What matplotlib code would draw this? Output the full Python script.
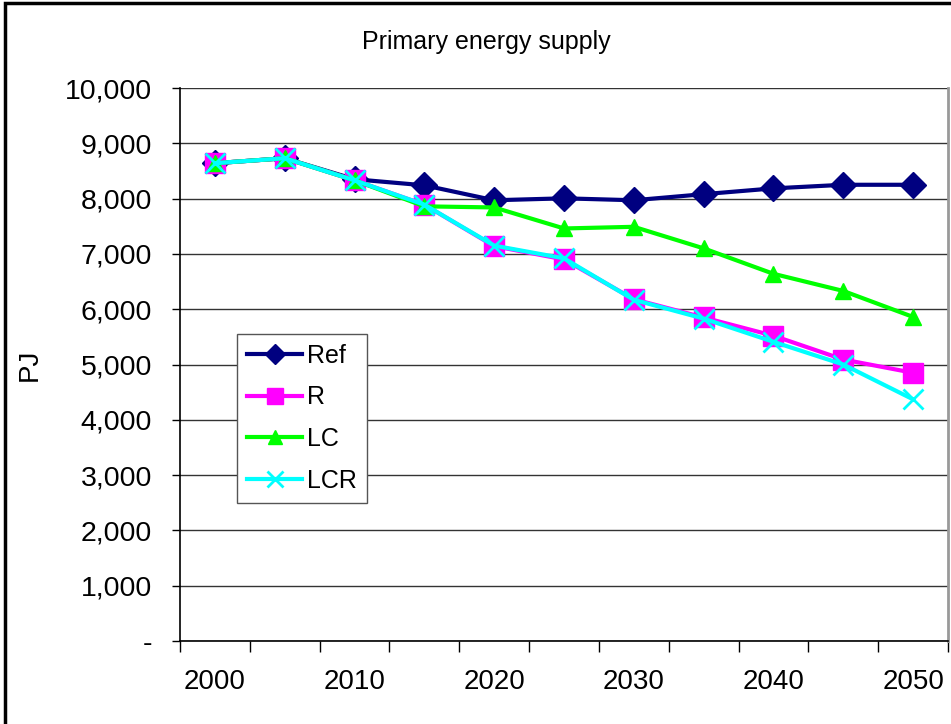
import matplotlib
matplotlib.use("Agg")
import matplotlib.pyplot as plt
from matplotlib.patches import Rectangle
from matplotlib.ticker import FuncFormatter

plt.rcParams['font.family'] = ['Liberation Sans', 'DejaVu Sans']

years = [2000, 2005, 2010, 2015, 2020, 2025, 2030, 2035, 2040, 2045, 2050]
ref = [8640, 8730, 8350, 8240, 7970, 8005, 7970, 8080, 8185, 8250, 8250]
r = [8640, 8730, 8330, 7890, 7140, 6900, 6180, 5850, 5520, 5090, 4850]
lc = [8640, 8730, 8330, 7860, 7840, 7460, 7490, 7100, 6640, 6330, 5860]
lcr = [8640, 8730, 8330, 7890, 7150, 6920, 6170, 5830, 5410, 5000, 4370]

x = list(range(len(years)))

fig = plt.figure(figsize=(9.51, 7.24), dpi=100)
ax = fig.add_axes([180 / 951, 1 - 641 / 724, 768 / 951, 553 / 724])

ax.plot(x, ref, color='#000080', marker='D', ms=13, lw=3, label='Ref')
ax.plot(x, r, color='#FF00FF', marker='s', ms=14, lw=3, label='R')
ax.plot(x, lc, color='#00FF00', marker='^', ms=12, lw=3, label='LC')
ax.plot(x, lcr, color='#00FFFF', marker='x', ms=14, mew=2, lw=3, label='LCR')

ax.set_ylim(0, 10000)
ax.set_xlim(-0.5, len(years) - 0.5)
ax.set_yticks(range(0, 10001, 1000))
ax.yaxis.set_major_formatter(FuncFormatter(lambda v, p: '-' if v == 0 else f'{int(v):,}'))
ax.grid(axis='y', color='#333333', lw=1)
ax.set_axisbelow(True)

ax.set_xticks(x[::2])
ax.set_xticklabels([str(y) for y in years[::2]])
ax.set_xticks([i - 0.5 for i in range(len(years) + 1)], minor=True)
ax.tick_params(axis='x', which='major', length=0, pad=20, labelsize=20)
ax.tick_params(axis='x', which='minor', length=8, width=1, color='black')
ax.tick_params(axis='y', length=6, width=1, pad=14, labelsize=20.5)

ax.spines['top'].set_visible(False)
ax.spines['right'].set_color('#999999')
ax.spines['right'].set_linewidth(2)
ax.spines['left'].set_linewidth(1.2)
ax.spines['bottom'].set_linewidth(1.2)

ax.set_ylabel('PJ', fontsize=20, labelpad=16)
fig.text(486 / 951, 1 - 42 / 724, 'Primary energy supply', fontsize=18, ha='center', va='center')

leg = ax.legend(loc='upper left', bbox_to_anchor=(237 / 951, 1 - 334 / 724),
                bbox_transform=fig.transFigure, fontsize=18, frameon=True,
                fancybox=False, edgecolor='#555555', framealpha=1,
                handlelength=2.2, handletextpad=0.2, labelspacing=0.7,
                borderpad=0.4, borderaxespad=0, markerscale=0.8)
leg.get_frame().set_linewidth(1)

# outer chart frame
fig.patches.append(Rectangle((5 / 951, -0.2), 1.2, 1.2 - 3 / 724,
                             transform=fig.transFigure, fill=False,
                             edgecolor='black', lw=2.5))

fig.savefig('out.png', dpi=100)
